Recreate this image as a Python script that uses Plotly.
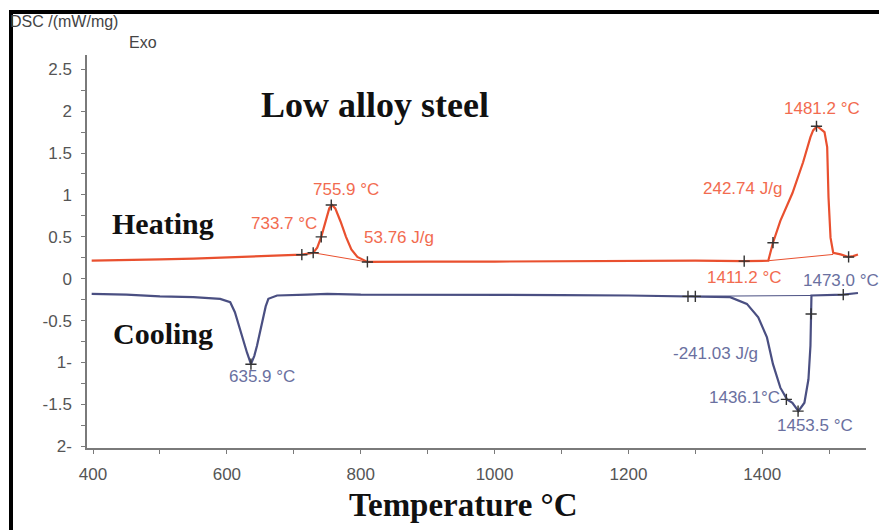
import plotly.graph_objects as go

# ---------------- data ----------------
heat_T = [398, 450, 500, 550, 600, 650, 690, 712, 729, 735, 741, 748, 753, 757, 762, 770, 778, 786,
          795, 810, 850, 900, 1000, 1100, 1200, 1300, 1373, 1409, 1416, 1427, 1445, 1461, 1472, 1476,
          1482, 1493, 1497, 1499, 1502, 1506, 1517, 1529, 1536, 1543]
heat_Q = [0.215, 0.22, 0.23, 0.24, 0.255, 0.27, 0.28, 0.287, 0.31, 0.37, 0.50, 0.70, 0.84, 0.88, 0.84,
          0.68, 0.50, 0.35, 0.26, 0.20, 0.205, 0.205, 0.205, 0.21, 0.215, 0.215, 0.21, 0.215, 0.43,
          0.69, 1.02, 1.39, 1.69, 1.77, 1.82, 1.75, 1.57, 0.97, 0.49, 0.31, 0.29, 0.26, 0.27, 0.29]

heat_base1_T = [729, 770, 810]
heat_base1_Q = [0.31, 0.25, 0.20]
heat_base2_T = [1409, 1506]
heat_base2_Q = [0.215, 0.29]

heat_mark_T = [712, 729, 741, 756, 810, 1373, 1416, 1481, 1529]
heat_mark_Q = [0.287, 0.31, 0.50, 0.88, 0.20, 0.21, 0.43, 1.82, 0.26]

cool_T = [398, 450, 500, 550, 590, 605, 612, 617, 624, 630, 636, 641, 645, 650, 654, 658, 662, 675,
          720, 750, 800, 900, 1000, 1100, 1200, 1289, 1352, 1377, 1394, 1407, 1416, 1427, 1437, 1445,
          1454, 1463, 1469, 1472, 1473, 1473.5, 1521, 1543]
cool_Q = [-0.18, -0.19, -0.21, -0.22, -0.24, -0.28, -0.40, -0.54, -0.72, -0.88, -1.02, -0.92, -0.80,
          -0.62, -0.47, -0.33, -0.24, -0.20, -0.19, -0.18, -0.19, -0.19, -0.19, -0.195, -0.20, -0.21,
          -0.22, -0.30, -0.46, -0.70, -1.02, -1.30, -1.44, -1.48, -1.58, -1.48, -1.20, -0.80, -0.42,
          -0.20, -0.19, -0.17]

cool_base_T = [1289, 1473.5]
cool_base_Q = [-0.21, -0.20]

cool_mark_T = [636, 1289, 1300, 1436, 1453.5, 1473, 1521]
cool_mark_Q = [-1.02, -0.21, -0.21, -1.44, -1.58, -0.42, -0.19]

y_tickvals = [-2, -1.5, -1, -0.5, 0, 0.5, 1, 1.5, 2, 2.5]
y_ticktext = ["2-", "-1.5", "1-", "-0.5", "0", "0.5", "1", "1.5", "2", "2.5"]
x_tickvals = [400, 600, 800, 1000, 1200, 1400]
x_ticktext = ["400", "600", "800", "1000", "1200", "1400"]

# ---------------- styles ----------------
HEAT = "#E9502F"
HEAT_TXT = "#F26B4F"
COOL = "#4A4F82"
COOL_TXT = "#6A70A0"
W, H = 879, 530
L, R, T, B = 87, 13, 55, 82
PW, PH = W - L - R, H - T - B


def px(x):
    return (x - L) / PW


def py(y):
    return (H - B - y) / PH


fig = go.Figure()
fig.add_trace(go.Scatter(x=heat_T, y=heat_Q, mode="lines", line=dict(color=HEAT, width=2.2),
                         hoverinfo="skip"))
fig.add_trace(go.Scatter(x=heat_base1_T, y=heat_base1_Q, mode="lines", line=dict(color=HEAT, width=1),
                         hoverinfo="skip"))
fig.add_trace(go.Scatter(x=heat_base2_T, y=heat_base2_Q, mode="lines", line=dict(color=HEAT, width=1),
                         hoverinfo="skip"))
fig.add_trace(go.Scatter(x=cool_T, y=cool_Q, mode="lines", line=dict(color=COOL, width=2.2),
                         hoverinfo="skip"))
fig.add_trace(go.Scatter(x=cool_base_T, y=cool_base_Q, mode="lines", line=dict(color=COOL, width=1),
                         hoverinfo="skip"))
for mx, my in [(heat_mark_T, heat_mark_Q), (cool_mark_T, cool_mark_Q)]:
    fig.add_trace(go.Scatter(x=mx, y=my, mode="markers",
                             marker=dict(symbol="cross-thin", size=8, line=dict(color="#333333", width=1.4)),
                             hoverinfo="skip"))

ann = []


def text(s, x, y, color, size, xa="center", family="Liberation Sans, Arial, sans-serif", bold=False):
    if bold:
        s = "<b>" + s + "</b>"
    ann.append(dict(text=s, x=px(x), y=py(y), xref="paper", yref="paper", showarrow=False,
                    xanchor=xa, yanchor="middle", font=dict(color=color, size=size, family=family)))


# peak labels
text("755.9 °C", 346, 189, HEAT_TXT, 17)
text("733.7 °C", 319, 223, HEAT_TXT, 17, xa="right")
text("53.76 J/g", 362, 237, HEAT_TXT, 17, xa="left")
text("1481.2 °C", 822, 108, HEAT_TXT, 17)
text("242.74 J/g", 784, 188, HEAT_TXT, 17, xa="right")
text("1411.2 °C", 705, 277, HEAT_TXT, 17, xa="left")
text("635.9 °C", 262, 376, COOL_TXT, 17)
text("1473.0 °C", 801, 280, COOL_TXT, 17, xa="left")
text("-241.03 J/g", 760, 353, COOL_TXT, 17, xa="right")
text("1436.1°C", 782, 397, COOL_TXT, 17, xa="right")
text("1453.5 °C", 815, 425, COOL_TXT, 17)

serif = "Liberation Serif, Times New Roman, serif"
text("Low alloy steel", 375, 105, "#111111", 36, family=serif, bold=True)
text("Heating", 163, 223, "#111111", 30, family=serif, bold=True)
text("Cooling", 163, 333, "#111111", 30, family=serif, bold=True)
text("Temperature °C", 463, 505, "#111111", 33, family=serif, bold=True)
text("DSC /(mW/mg)", 8, 21, "#444444", 16, xa="left")
text("Exo", 143, 43, "#444444", 16)

shapes = [
    dict(type="line", xref="paper", yref="paper", x0=px(9), x1=px(879), y0=py(12), y1=py(12),
         line=dict(color="black", width=4), layer="above"),
    dict(type="line", xref="paper", yref="paper", x0=px(11), x1=px(11), y0=py(10), y1=py(530),
         line=dict(color="black", width=4), layer="above"),
]

axis_common = dict(showgrid=False, zeroline=False, showline=True, linecolor="#7a7a7a", linewidth=1.5,
                   ticks="outside", ticklen=4, tickcolor="#7a7a7a", tickwidth=1,
                   tickfont=dict(family="Liberation Sans, Arial, sans-serif", size=17, color="#555555"))

fig.update_layout(
    width=W, height=H, margin=dict(l=L, r=R, t=T, b=B),
    plot_bgcolor="white", paper_bgcolor="white", showlegend=False,
    xaxis=dict(range=[391, 1555], tickvals=x_tickvals, ticktext=x_ticktext,
               minor=dict(dtick=100, tick0=400, ticks="outside", ticklen=4, tickcolor="#7a7a7a"),
               ticklabelstandoff=6, **axis_common),
    yaxis=dict(range=[-2.02, 2.67], tickvals=y_tickvals, ticktext=y_ticktext,
               minor=dict(dtick=0.25, tick0=0, ticks="outside", ticklen=4, tickcolor="#7a7a7a"),
               ticklabelstandoff=6, **axis_common),
    annotations=ann, shapes=shapes,
)

fig.write_html("out.html")
